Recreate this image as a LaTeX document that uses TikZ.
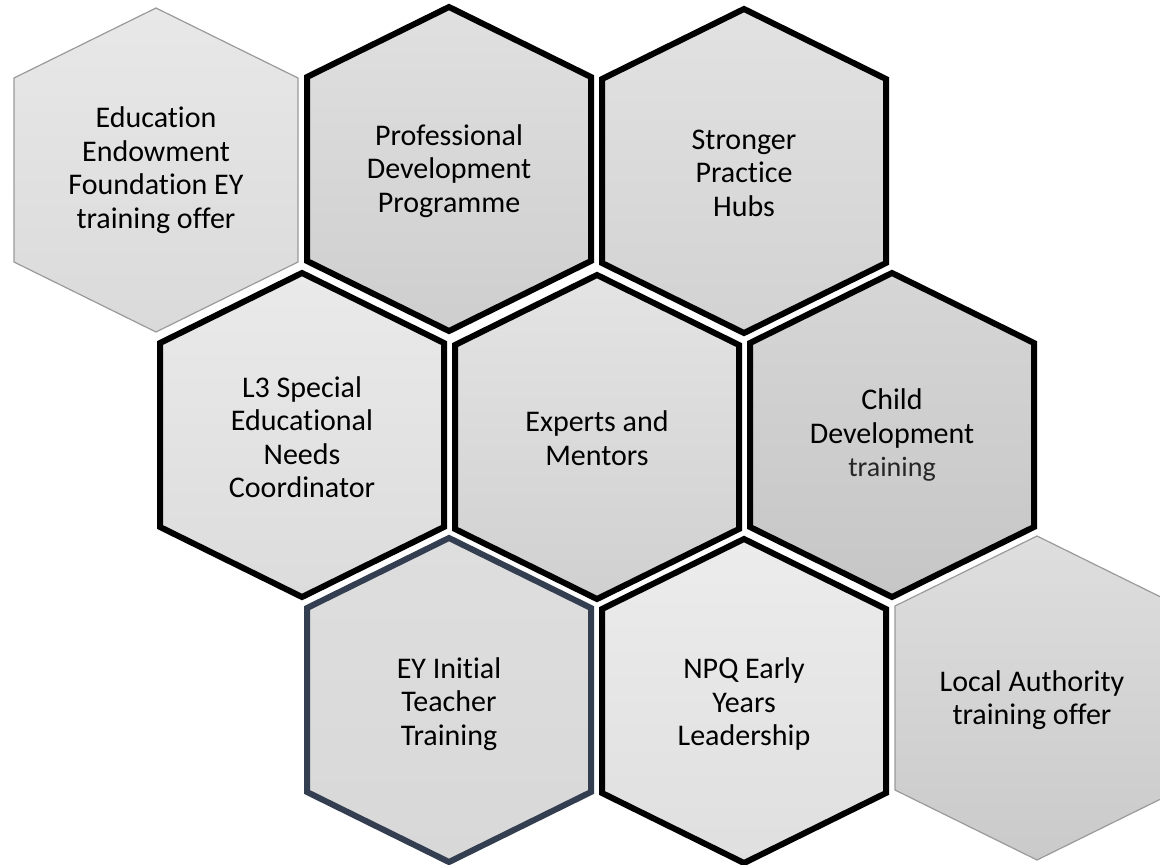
\documentclass[tikz,border=0pt]{standalone}
\usepackage{fontspec}
\setmainfont{Carlito}[Ligatures={NoCommon}]
\definecolor{ittblue}{HTML}{333F50}
\definecolor{thingray}{HTML}{9A9A9A}
\tikzset{
  x=1pt, y=-1pt,
  hexa/.pic={\path[pic actions] (-142,-92) -- (0,-162) -- (142,-92) -- (142,92) -- (0,162) -- (-142,92) -- cycle;},
  thickhex/.style={draw=black, line width=6pt, line join=miter},
  thinhex/.style={draw=thingray, line width=1.2pt},
  lbl/.style={align=center, text=black, font=\fontsize{30}{33.5}\selectfont, inner sep=0pt},
}
\begin{document}
\begin{tikzpicture}
\useasboundingbox (0,0) rectangle (1160,865);
\clip (0,0) rectangle (1160,865);
\fill[white] (0,0) rectangle (1160,865);
% row 1
\pic[thinhex, top color={rgb,255:red,232;green,232;blue,232}, bottom color={rgb,255:red,218;green,218;blue,218}] at (156,170) {hexa};
\pic[thickhex, top color={rgb,255:red,224;green,224;blue,224}, bottom color={rgb,255:red,206;green,206;blue,206}] at (449,169) {hexa};
\pic[thickhex, top color={rgb,255:red,226;green,226;blue,226}, bottom color={rgb,255:red,210;green,210;blue,210}] at (744,171) {hexa};
% row 2
\pic[thickhex, top color={rgb,255:red,234;green,234;blue,234}, bottom color={rgb,255:red,220;green,220;blue,220}] at (302,435) {hexa};
\pic[thickhex, top color={rgb,255:red,228;green,228;blue,228}, bottom color={rgb,255:red,208;green,208;blue,208}] at (597,437) {hexa};
\pic[thickhex, top color={rgb,255:red,214;green,214;blue,214}, bottom color={rgb,255:red,198;green,198;blue,198}] at (892,435) {hexa};
% row 3
\pic[draw=ittblue, line width=6pt, top color={rgb,255:red,222;green,222;blue,222}, bottom color={rgb,255:red,216;green,216;blue,216}] at (449,700) {hexa};
\pic[thickhex, top color={rgb,255:red,236;green,236;blue,236}, bottom color={rgb,255:red,223;green,223;blue,223}] at (744,701) {hexa};
\pic[thinhex, top color={rgb,255:red,222;green,222;blue,222}, bottom color={rgb,255:red,202;green,202;blue,202}] at (1037,698) {hexa};
% labels
\node[lbl] (eef) at (156,170) {Education\\Endowment\\Foundation EY\\training offer};
\node[lbl] (pdp) at (449,171) {Professional\\Development\\Programme};
\node[lbl] (sph) at (744,173) {Stronger\\Practice\\Hubs};
\node[lbl] (l3) at (302,437) {L3 Special\\Educational\\Needs\\Coordinator};
\node[lbl] (exp) at (597,438) {Experts and\\Mentors};
\node[lbl] (cd) at (892,435) {Child\\Development\\{\fontsize{28}{33.5}\selectfont\color[HTML]{262626}training}};
\node[lbl] (itt) at (449,704) {EY Initial\\Teacher\\Training};
\node[lbl] (npq) at (744,704) {NPQ Early\\Years\\Leadership};
\node[lbl] (la) at (1032,700) {Local Authority\\training offer};
\end{tikzpicture}
\end{document}
